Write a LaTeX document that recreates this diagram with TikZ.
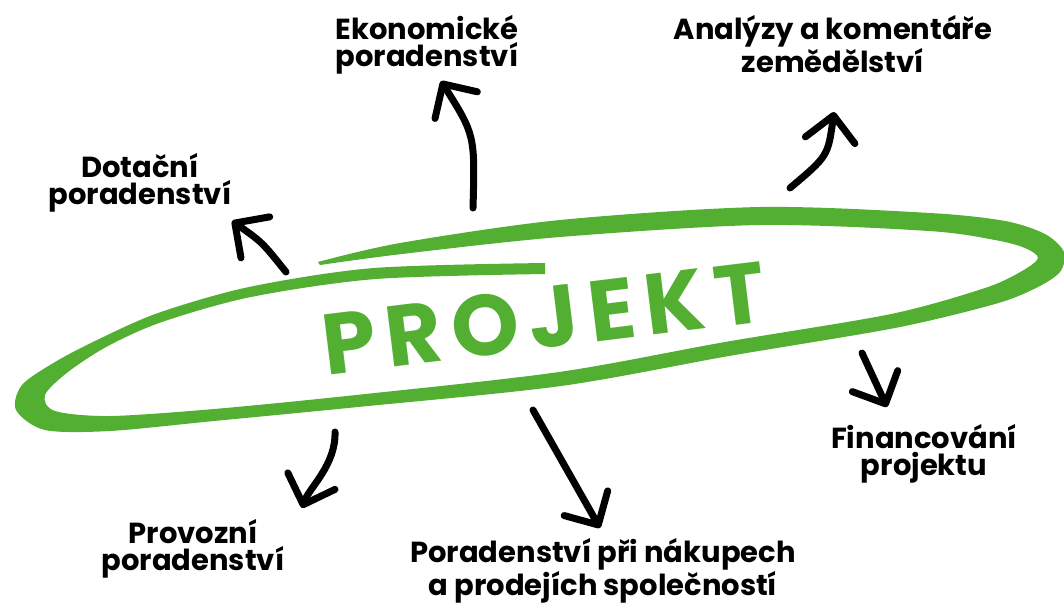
\documentclass[tikz,border=0pt]{standalone}
\usepackage{fontspec}
\setmainfont{Poppins}
\usetikzlibrary{arrows.meta}
\definecolor{prjgreen}{RGB}{83,175,50}
\tikzset{>={Straight Barb[length=25pt,width=50pt,round]}}
\begin{document}
\begin{tikzpicture}[x=1pt, y=-1pt,
  lbl/.style={align=center, font=\fontsize{29}{27}\selectfont\bfseries},
  arr/.style={->, line width=7pt, line cap=round}]
\useasboundingbox (0,0) rectangle (1064,606);
% green loop round the title
\fill[prjgreen] plot[smooth] coordinates {(318,262) (400,243) (560,220) (760,207) (930,213) (1005,221)
  (1045,234) (1064,252) (1060,272) (1036,288) (995,304) (895,328) (729,356) (561,386) (358,407)
  (214,421) (110,431) (45,430) (16,410) (22,385) (55,362) (97,340) (158,313) (249,287) (374,268) (545,263)}
  -- plot[smooth] coordinates {(545,274) (376,279) (251,297) (162,322) (108,346) (68,372) (45,395)
  (55,411) (110,416) (214,409) (356,395) (559,372) (725,342) (891,314) (985,288) (1022,271)
  (1038,258) (1025,248) (995,240) (929,231) (760,225) (560,237) (402,254) (320,265)} -- cycle;
\node[rotate=7, text=prjgreen, font=\fontsize{86}{86}\selectfont\bfseries\addfontfeatures{LetterSpace=12}] (prj) at (544,318) {PROJEKT};
% labels
\node[lbl] (eko) at (427,45) {Ekonomické\\poradenství};
\node[lbl] (dot) at (140,183) {Dotační\\poradenství};
\node[lbl] (ana) at (833,44) {Analýzy a komentáře\\zemědělství};
\node[lbl] (fin) at (924,454) {Financování\\projektu};
\node[lbl] (pro) at (193,549) {Provozní\\poradenství};
\node[lbl] (por) at (603,571) {Poradenství při nákupech\\a prodejích společností};
% arrows
\coordinate (dot-s) at (286,272); \coordinate (dot-t) at (232,221);
\coordinate (eko-s) at (473,208); \coordinate (eko-t) at (441,81);
\coordinate (ana-s) at (790,188); \coordinate (ana-t) at (834,112);
\coordinate (fin-s) at (862,353); \coordinate (fin-t) at (887,407);
\coordinate (pro-s) at (335,432); \coordinate (pro-t) at (302,508);
\coordinate (por-s) at (533,410); \coordinate (por-t) at (600,528);
\draw[arr] (dot-s) .. controls (262,242) .. (dot-t);
\draw[arr] (eko-s) .. controls (475,135) .. (eko-t);
\draw[arr] (ana-s) .. controls (828,156) .. (ana-t);
\draw[arr] (fin-s) -- (fin-t);
\draw[arr] (pro-s) .. controls (336,465) and (309,488) .. (pro-t);
\draw[arr] (por-s) -- (por-t);
\end{tikzpicture}
\end{document}
